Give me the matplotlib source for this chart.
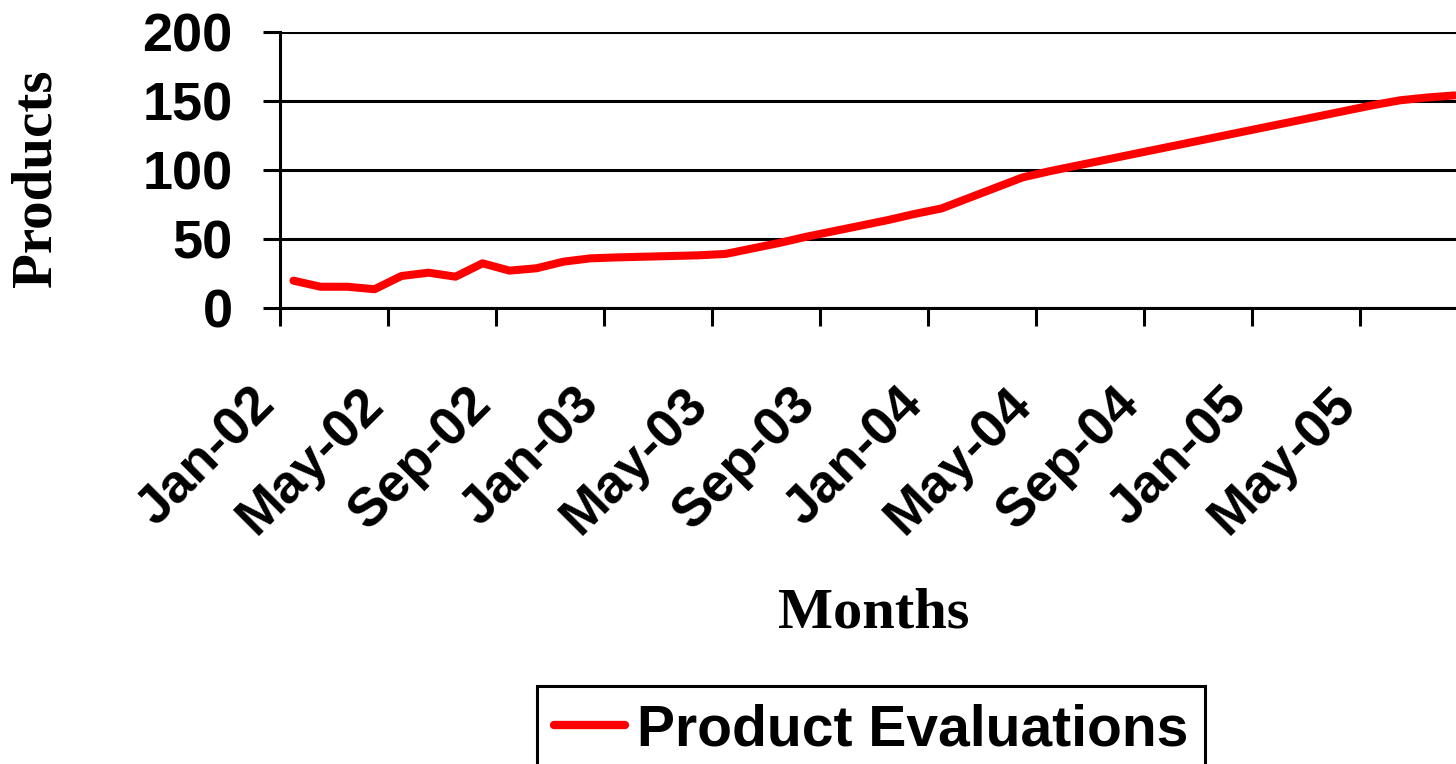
import numpy as np
import matplotlib
matplotlib.use("Agg")
import matplotlib.pyplot as plt
import matplotlib.transforms as mtransforms

# monthly data Jan-02 .. Aug-05
values = [19.6, 15.2, 15.2, 13.4, 23.0, 25.4, 22.5, 32.2, 26.9, 28.6, 33.4, 35.8,
          36.5, 37.0, 37.5, 38.0, 39.0, 43.0, 47.0, 51.5, 55.5, 59.5, 63.5, 68.0,
          72.0, 79.5, 87.0, 94.5, 99.0, 103.0, 107.0, 111.0, 115.0, 119.0, 123.0, 127.0,
          131.0, 135.0, 139.0, 143.0, 147.0, 150.5, 152.5, 154.0]
tick_labels = ['Jan-02', 'May-02', 'Sep-02', 'Jan-03', 'May-03', 'Sep-03',
               'Jan-04', 'May-04', 'Sep-04', 'Jan-05', 'May-05']
y_ticks = [0, 50, 100, 150, 200]
series_name = 'Product Evaluations'

W, H = 1456, 764
fig = plt.figure(figsize=(W / 100, H / 100), dpi=100)
ax = fig.add_axes([280 / W, 1 - 307.7 / H, 1188 / W, (307.7 - 32) / H])

x = np.arange(len(values))
line, = ax.plot(x, values, color='#ff0000', lw=5.8, solid_capstyle='round',
                solid_joinstyle='round', label=series_name, zorder=3)

ax.set_xlim(-0.5, len(values) - 0.5)
ax.set_ylim(0, 200)

# y axis
ax.set_yticks(y_ticks)
ax.yaxis.grid(True, color='black', lw=2.2)
ax.set_axisbelow(True)
ax.tick_params(axis='y', direction='out', length=12, width=2.2, pad=22)
for lab in ax.get_yticklabels():
    lab.set_fontfamily('Liberation Sans')
    lab.set_fontweight('bold')
    lab.set_fontsize(39)

# x axis: tick marks at category boundaries, labels at every 4th category
ax.set_xticks(np.arange(-0.5, len(values), 4))
ax.set_xticklabels([])
ax.tick_params(axis='x', which='major', direction='out', length=13, width=2.2)
ax.set_xticks(np.arange(0, len(values), 4), minor=True)
ax.set_xticklabels(tick_labels, minor=True, rotation=45, ha='right', va='top',
                   rotation_mode='anchor', fontfamily='Liberation Sans',
                   fontweight='bold', fontsize=39)
ax.tick_params(axis='x', which='minor', length=0, pad=51)
shift = mtransforms.ScaledTranslation(-44 / 100, 0, fig.dpi_scale_trans)
for lab in ax.xaxis.get_minorticklabels():
    lab.set_transform(lab.get_transform() + shift)

for s in ['top', 'right']:
    ax.spines[s].set_visible(False)
for s in ['left', 'bottom']:
    ax.spines[s].set_linewidth(2.2)

fig.text(37 / W, 1 - 178 / H, 'Products', rotation=90, ha='center', va='center',
         fontfamily='Liberation Serif', fontweight='bold', fontsize=41)
fig.text(874 / W, 1 - 613 / H, 'Months', ha='center', va='center',
         fontfamily='Liberation Serif', fontweight='bold', fontsize=42)

leg = fig.legend(handles=[line], loc='upper left', bbox_to_anchor=(537 / W, 1 - 686 / H),
                 bbox_transform=fig.transFigure, borderaxespad=0, fancybox=False,
                 edgecolor='black', framealpha=1, handlelength=1.25, handletextpad=0.2,
                 borderpad=0.3,
                 prop={'family': 'Liberation Sans', 'weight': 'bold', 'size': 41})
leg.get_frame().set_linewidth(2.2)
leg.get_lines()[0].set_linewidth(6)

fig.savefig('out.png', dpi=100)
